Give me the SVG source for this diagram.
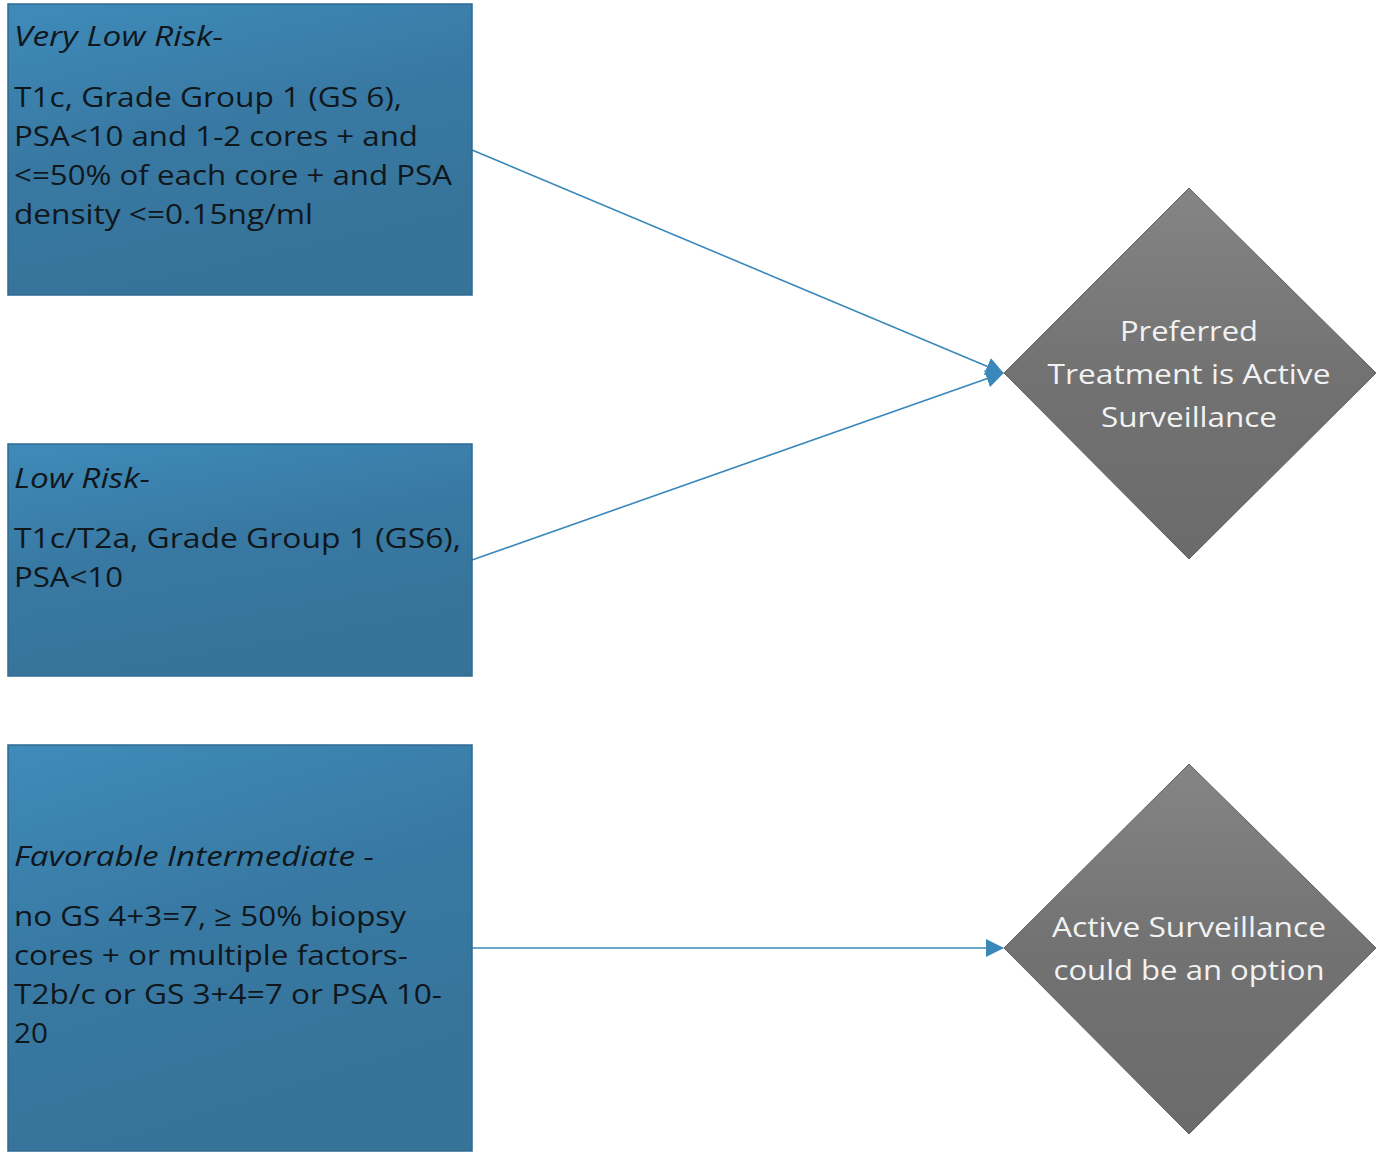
<svg xmlns="http://www.w3.org/2000/svg" width="1383" height="1153" viewBox="0 0 1383 1153">
<defs>
<linearGradient id="gBox" x1="0" y1="0" x2="0.35" y2="1">
<stop offset="0" stop-color="#3f8bb9"/>
<stop offset="0.5" stop-color="#3879a3"/>
<stop offset="1" stop-color="#367399"/>
</linearGradient>
<linearGradient id="gDia" x1="0" y1="0" x2="0" y2="1">
<stop offset="0" stop-color="#858585"/>
<stop offset="0.5" stop-color="#727272"/>
<stop offset="1" stop-color="#6b6b6b"/>
</linearGradient>
<marker id="arr" markerWidth="18" markerHeight="18" refX="17" refY="9" orient="auto" markerUnits="userSpaceOnUse" viewBox="0 0 18 18">
<path d="M0,0 L18,9 L0,18 Z" fill="#3a88ba"/>
</marker>
</defs>
<style>
.box{fill:url(#gBox);stroke:#2f6a92;stroke-width:1.5}
.dia{fill:url(#gDia);stroke:#606060;stroke-width:1}
.t{font-family:"Open Sans","Noto Sans",sans-serif;font-size:28px;fill:#10171c}
.i{font-style:italic}
.d{font-family:"Open Sans","Noto Sans",sans-serif;font-size:28px;fill:#f2f2f2;text-anchor:middle}
.c{stroke:#3a88ba;stroke-width:1.6;fill:none}
</style>
<rect width="1383" height="1153" fill="#ffffff"/>
<g id="connectors">
<path class="c" d="M472,150 L1003,373" marker-end="url(#arr)"/>
<path class="c" d="M472,560 L1003,373" marker-end="url(#arr)"/>
<path class="c" d="M472,948 L1003,948" marker-end="url(#arr)"/>
</g>
<g id="very-low-risk">
<rect class="box" x="8" y="4" width="464" height="291"/>
<text class="t i" x="14" y="46" textLength="209" lengthAdjust="spacingAndGlyphs">Very Low Risk-</text>
<text class="t" x="14" y="107" textLength="388" lengthAdjust="spacingAndGlyphs">T1c, Grade Group 1 (GS 6),</text>
<text class="t" x="14" y="146" textLength="404" lengthAdjust="spacingAndGlyphs">PSA&lt;10 and 1-2 cores + and</text>
<text class="t" x="14" y="185" textLength="438" lengthAdjust="spacingAndGlyphs">&lt;=50% of each core + and PSA</text>
<text class="t" x="14" y="224" textLength="299" lengthAdjust="spacingAndGlyphs">density &lt;=0.15ng/ml</text>
</g>
<g id="low-risk">
<rect class="box" x="8" y="444" width="464" height="232"/>
<text class="t i" x="14" y="488" textLength="136" lengthAdjust="spacingAndGlyphs">Low Risk-</text>
<text class="t" x="14" y="548" textLength="447" lengthAdjust="spacingAndGlyphs">T1c/T2a, Grade Group 1 (GS6),</text>
<text class="t" x="14" y="587" textLength="109" lengthAdjust="spacingAndGlyphs">PSA&lt;10</text>
</g>
<g id="favorable-intermediate">
<rect class="box" x="8" y="745" width="464" height="406"/>
<text class="t i" x="14" y="866" textLength="360" lengthAdjust="spacingAndGlyphs">Favorable Intermediate -</text>
<text class="t" x="14" y="926" textLength="392" lengthAdjust="spacingAndGlyphs">no GS 4+3=7, ≥ 50% biopsy</text>
<text class="t" x="14" y="965" textLength="394" lengthAdjust="spacingAndGlyphs">cores + or multiple factors-</text>
<text class="t" x="14" y="1004" textLength="428" lengthAdjust="spacingAndGlyphs">T2b/c or GS 3+4=7 or PSA 10-</text>
<text class="t" x="14" y="1043" textLength="34" lengthAdjust="spacingAndGlyphs">20</text>
</g>
<g id="preferred-as">
<polygon class="dia" points="1189,188 1376,373 1189,559 1004,373"/>
<text class="d" x="1189" y="341" textLength="138" lengthAdjust="spacingAndGlyphs">Preferred</text>
<text class="d" x="1189" y="384" textLength="283" lengthAdjust="spacingAndGlyphs">Treatment is Active</text>
<text class="d" x="1189" y="427" textLength="176" lengthAdjust="spacingAndGlyphs">Surveillance</text>
</g>
<g id="as-option">
<polygon class="dia" points="1189,764 1376,948 1189,1134 1004,948"/>
<text class="d" x="1189" y="937" textLength="274" lengthAdjust="spacingAndGlyphs">Active Surveillance</text>
<text class="d" x="1189" y="980" textLength="271" lengthAdjust="spacingAndGlyphs">could be an option</text>
</g>
</svg>
